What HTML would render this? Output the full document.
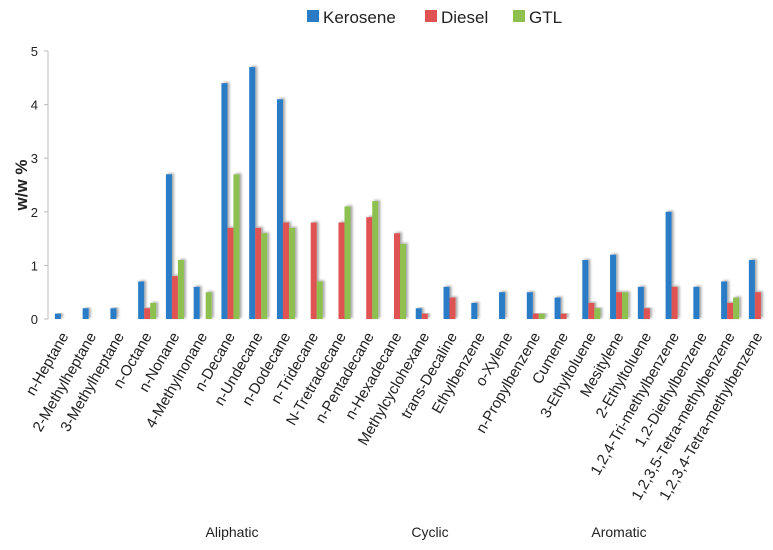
<!DOCTYPE html>
<html><head><meta charset="utf-8"><style>
body{margin:0;background:#fff;}
svg text{font-family:"Liberation Sans",sans-serif;fill:#222;}
</style></head><body>
<svg id="chart" width="773" height="545" xmlns="http://www.w3.org/2000/svg">
<defs><filter id="sh" x="-50%" y="-10%" width="250%" height="130%"><feDropShadow dx="2" dy="-1" stdDeviation="1.2" flood-color="#000" flood-opacity="0.35"/></filter></defs>
<g id="legend">
<rect x="307" y="10" width="12" height="12" fill="#2a7bc6"/>
<text x="323" y="23" font-size="17">Kerosene</text>
<rect x="425" y="10" width="12" height="12" fill="#e05252"/>
<text x="441" y="23" font-size="17">Diesel</text>
<rect x="513" y="10" width="12" height="12" fill="#8dc04f"/>
<text x="529" y="23" font-size="17">GTL</text>
</g>
<text transform="translate(27,185) rotate(-90)" text-anchor="middle" font-size="17" font-weight="bold">w/w %</text>
<line x1="48" y1="51" x2="48" y2="319" stroke="#bbb"/>
<g id="yt"></g><g id="bars"></g><g id="xl"></g>
<text x="232" y="537" text-anchor="middle" font-size="14">Aliphatic</text>
<text x="430" y="537" text-anchor="middle" font-size="14">Cyclic</text>
<text x="619" y="537" text-anchor="middle" font-size="14">Aromatic</text>
</svg>
<script>
const categories=["n-Heptane","2-Methylheptane","3-Methylheptane","n-Octane","n-Nonane","4-Methylnonane","n-Decane","n-Undecane","n-Dodecane","n-Tridecane","N-Tretradecane","n-Pentadecane","n-Hexadecane","Methylcyclohexane","trans-Decaline","Ethylbenzene","o-Xylene","n-Propylbenzene","Cumene","3-Ethyltoluene","Mesitylene","2-Ethyltoluene","1,2,4-Tri-methylbenzene","1,2-Diethylbenzene","1,2,3,5-Tetra-methylbenzene","1,2,3,4-Tetra-methylbenzene"];
const kerosene=[0.1,0.2,0.2,0.7,2.7,0.6,4.4,4.7,4.1,0,0,0,0,0.2,0.6,0.3,0.5,0.5,0.4,1.1,1.2,0.6,2.0,0.6,0.7,1.1];
const diesel=[0,0,0,0.2,0.8,0,1.7,1.7,1.8,1.8,1.8,1.9,1.6,0.1,0.4,0,0,0.1,0.1,0.3,0.5,0.2,0.6,0,0.3,0.5];
const gtl=[0,0,0,0.3,1.1,0.5,2.7,1.6,1.7,0.7,2.1,2.2,1.4,0,0,0,0,0.1,0,0.2,0.5,0,0,0,0.4,0];
const yTicks=[0,1,2,3,4,5];
const NS="http://www.w3.org/2000/svg";
const x0=50,band=27.76,y0=319,y5=51;
const yS=v=>y0-(y0-y5)*v/5;
const xC=i=>x0+band*(i+0.5);
const yt=document.getElementById('yt'),bars=document.getElementById('bars'),xl=document.getElementById('xl');
yTicks.forEach(t=>{
 const l=document.createElementNS(NS,'line');
 l.setAttribute('x1',44);l.setAttribute('x2',48);l.setAttribute('y1',yS(t));l.setAttribute('y2',yS(t));l.setAttribute('stroke','#bbb');
 
 
 yt.appendChild(l);
 const tx=document.createElementNS(NS,'text');
 tx.setAttribute('x',38);tx.setAttribute('y',yS(t)+5);tx.setAttribute('text-anchor','end');tx.setAttribute('font-size','13');
 tx.textContent=t;
 
 
 yt.appendChild(tx);
});
const series=[[kerosene,'#2a7bc6','kerosene'],[diesel,'#e05252','diesel'],[gtl,'#8dc04f','gtl']];
const bw=6;
categories.forEach((c,i)=>{
 series.forEach(([arr,col,nm],k)=>{
  const v=arr[i]; if(!v) return;
  const r=document.createElementNS(NS,'rect');
  r.setAttribute('x',xC(i)-9+k*bw);r.setAttribute('width',bw);
  r.setAttribute('y',yS(v));r.setAttribute('height',y0-yS(v));
  r.setAttribute('fill',col);r.setAttribute('filter','url(#sh)');
  
  
  bars.appendChild(r);
 });
 const t=document.createElementNS(NS,'text');
 t.setAttribute('transform',`translate(${xC(i)+5},336) rotate(-60)`);
 t.setAttribute('text-anchor','end');t.setAttribute('font-size','15');
 t.textContent=c;
 
 
 xl.appendChild(t);
});
</script>
</body></html>
